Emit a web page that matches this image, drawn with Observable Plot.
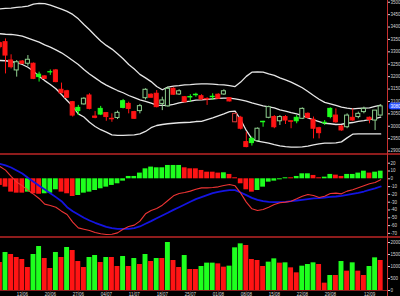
<!DOCTYPE html>
<html><head><meta charset="utf-8">
<script src="https://cdn.jsdelivr.net/npm/d3@7"></script>
<script src="https://cdn.jsdelivr.net/npm/@observablehq/plot@0.6"></script>
<style>
html,body{margin:0;padding:0;background:#000;}
#chart{position:relative;width:400px;height:296px;overflow:hidden;background:#000;}
#chart svg{display:block;}
.sep{position:absolute;left:0;width:400px;height:2px;background:#8e1c1c;}
.vsep{position:absolute;left:387px;top:0;width:1px;height:296px;background:#c83030;}
#chart [aria-label^="x-axis"] line, #chart [aria-label^="x-axis"] path{stroke:#a02020;}
</style></head>
<body><div id="chart"></div>
<script>
// ---- data (index 0..68 = trading days) ----
const tickIdx = [4, 9, 14, 19, 24, 29, 34, 39, 44, 49, 54, 59, 66];
const tickLab = ["13/06","20/06","27/06","04/07","11/07","18/07","25/07","01/08","08/08","15/08","22/08","29/08","12/09"];
const priceTicks = [2900,2950,3000,3050,3100,3150,3200,3250,3300,3350,3400,3450,3500];
const macdTicks = [20,10,0,-10,-20,-30,-40,-50,-60,-70];
const volTicks = [0,500,1000,1500,2000];

const open = [3335,3339,3265,3225,3261,3252,3252,3208,3201,3218,3225,3147,3141,3097,3074,3088,3124,3039,3070,3053,3030,3033,3101,3090,3057,3061,3113,3127,3131,3090,3080,3151,3128,3117,3118,3127,3121,3110,3119,3127,3128,3113,3016,3034,2936,2949,2940,3018,3034,3037,3020,3037,3020,3034,3030,3050,3026,2992,3014,3070,3043,2999,2996,3034,3037,3057,3034,3023,3043];
const high = [3339,3352,3288,3265,3265,3285,3255,3218,3203,3227,3229,3174,3145,3100,3084,3115,3131,3059,3080,3055,3050,3061,3108,3097,3060,3088,3151,3131,3144,3117,3158,3155,3147,3120,3127,3133,3127,3115,3131,3131,3147,3115,3052,3040,2976,2956,2993,3020,3081,3043,3043,3043,3020,3043,3074,3054,3037,2996,3023,3074,3070,3003,3050,3070,3057,3077,3037,3063,3086];
const low = [3312,3211,3231,3198,3250,3242,3188,3178,3189,3205,3175,3131,3112,3037,3043,3085,3066,3030,3043,3020,3016,3027,3070,3050,3028,3050,3106,3113,3074,3063,3077,3125,3124,3094,3097,3117,3104,3084,3104,3109,3124,3098,3014,2985,2913,2920,2937,2996,3030,2990,3003,3007,2990,3010,3027,3030,2949,2949,3003,3030,3012,2980,2990,3020,3030,3050,3010,2983,3041];
const close = [3319,3285,3238,3258,3252,3268,3191,3198,3191,3217,3178,3133,3115,3043,3061,3111,3070,3034,3047,3037,3028,3054,3074,3070,3030,3081,3147,3115,3077,3104,3151,3127,3141,3097,3116,3125,3108,3108,3117,3111,3141,3100,3050,2990,2916,2932,2990,3016,3077,2996,3037,3023,3018,3020,3070,3034,2990,2972,3012,3037,3016,2983,3043,3023,3050,3070,3026,3063,3080];
const candleUp = [0,0,0,1,0,1,0,1,0,1,0,0,0,0,1,1,0,0,1,0,0,1,1,0,0,1,1,0,0,1,1,0,1,0,1,1,0,0,1,0,1,0,0,0,0,1,1,1,1,0,1,0,0,1,1,0,0,0,1,1,0,0,1,0,1,1,0,1,1];

const bandUpper = [3473,3475,3476,3479,3481,3484,3492,3495,3494,3488,3480,3472,3463,3451,3433,3410,3389,3366,3344,3326,3311,3292,3272,3249,3231,3209,3195,3180,3160,3147,3158,3162,3164,3167,3168,3170,3171,3171,3170,3168,3167,3164,3160,3178,3201,3218,3219,3218,3211,3205,3195,3187,3178,3167,3155,3140,3124,3109,3096,3090,3084,3077,3073,3070,3072,3073,3074,3080,3085];
const bandMid = [3373,3371,3370,3367,3363,3355,3347,3339,3328,3319,3308,3296,3281,3265,3249,3229,3211,3195,3179,3166,3155,3144,3135,3124,3115,3106,3100,3093,3085,3084,3084,3088,3094,3098,3101,3105,3106,3108,3110,3112,3113,3113,3110,3106,3101,3094,3088,3082,3078,3074,3066,3061,3055,3050,3043,3034,3026,3019,3012,3010,3007,3008,3012,3015,3020,3023,3027,3031,3037];
const bandLower = [3265,3264,3261,3256,3249,3238,3222,3201,3184,3168,3151,3128,3104,3080,3050,3037,3016,2999,2986,2976,2965,2963,2963,2964,2965,2969,2979,2994,3003,3007,3010,3012,3014,3015,3016,3019,3020,3027,3034,3042,3050,3059,3061,3026,2983,2949,2940,2936,2932,2926,2921,2918,2916,2916,2917,2920,2925,2929,2932,2932,2933,2937,2953,2968,2969,2969,2969,2969,2969];

const macdLine = [15.8,11.1,3.0,-4.3,-9.0,-14.6,-19.7,-25.2,-32.5,-34.2,-36.4,-41.5,-45.8,-55.6,-62.9,-64.6,-66.3,-68.8,-70.5,-71.4,-71.0,-69.3,-64.6,-61.1,-59.4,-54.3,-44.9,-40.6,-38.1,-33.8,-27.8,-21.8,-18.8,-17.6,-15.8,-13.3,-11.6,-11.6,-11.1,-10.3,-8.6,-7.3,-9.0,-18.4,-29.9,-38.5,-40.6,-39.3,-36.4,-32.9,-30.8,-29.9,-28.7,-25.7,-22.3,-20.1,-21.4,-24.0,-22.3,-18.8,-18.4,-19.3,-15.8,-14.1,-11.6,-9.0,-6.4,-4.7,-1.3];
const signalLine = [19.2,17.1,14.5,10.7,6.8,1.3,-3.9,-9.0,-13.7,-18.4,-23.5,-28.7,-36.4,-41.5,-45.8,-50.0,-53.5,-56.4,-59.0,-61.6,-63.3,-64.1,-64.1,-64.1,-63.3,-61.1,-57.7,-54.3,-50.5,-47.0,-43.6,-39.8,-36.4,-32.9,-29.5,-26.1,-23.5,-21.0,-18.4,-16.7,-15.4,-14.6,-14.6,-17.6,-21.0,-24.4,-26.9,-28.7,-29.5,-30.0,-30.0,-29.5,-28.7,-27.8,-26.9,-26.1,-25.2,-24.8,-24.0,-23.1,-22.7,-21.8,-20.5,-19.3,-18.0,-16.3,-14.1,-12.4,-9.9];
const histo = [-8.5,-10.7,-17.1,-18.4,-18.4,-17.1,-19.2,-19.8,-19.2,-18.4,-14.1,-17.1,-19.2,-22.7,-21.4,-18.4,-17.1,-15.0,-12.8,-10.7,-8.5,-6.4,-3.0,3.0,3.0,7.3,12.8,15.0,14.1,14.1,17.1,17.1,17.1,14.1,12.8,12.8,10.7,8.5,8.5,7.3,7.7,5.6,1.3,-6.4,-14.1,-17.1,-15.0,-10.7,-4.3,-3.0,-1.3,1.3,1.3,3.0,6.4,6.4,4.3,1.3,2.1,5.6,4.7,3.0,5.6,5.6,7.3,9.8,7.3,8.5,9.8];
const histoUp = [0,0,0,0,0,1,0,0,1,1,1,0,0,0,1,1,1,1,1,1,1,1,1,1,1,1,1,1,1,1,1,1,1,0,0,0,0,0,0,0,1,0,0,0,0,0,1,1,1,1,1,1,0,1,1,1,0,0,1,1,0,0,1,1,1,1,0,1,1];

const volume = [1167,1583,1500,1375,1292,958,1500,1833,1333,917,1583,1375,1792,1667,1208,958,1375,1458,1167,1375,1375,1000,1417,1000,1333,1083,1500,1208,1333,1333,2000,1250,958,1458,875,875,1000,1140,1140,1110,972,1014,1778,1944,1875,1292,1250,1000,1181,1319,1140,1153,944,736,1014,1083,1153,1083,306,625,625,1208,806,1153,806,625,1000,1361,1250];
const volUp = [0,1,0,0,0,0,1,1,0,0,1,0,1,0,0,0,1,1,0,1,0,0,1,0,1,0,1,0,1,0,1,0,0,1,0,0,1,1,1,0,0,1,1,1,0,0,0,0,1,1,0,1,0,0,1,1,1,0,0,1,0,1,0,1,0,0,1,1,0];

// ---- build tables ----
const rows = open.map((o, j) => ({
  j, o, h: high[j], l: low[j], c: close[j], up: candleUp[j],
  bu: bandUpper[j], bm: bandMid[j], bl: bandLower[j],
  macd: macdLine[j], sig: signalLine[j], hist: histo[j], hup: histoUp[j],
  vol: volume[j], vup: volUp[j]
}));
const lastClose = close[close.length - 1];

const GREEN = "#1eff1e", PALE = "#8fd08f", RED = "#ff1414", RED_H = "#d03a3a";
const cStroke = d => d.up ? (d.c > d.o ? PALE : GREEN) : (d.c > d.o ? RED_H : RED);
const cFill = d => d.c > d.o ? "black" : cStroke(d);

const xDomain = [0.107, 69.214];
const baseStyle = {background: "black", color: "#d4d4d4", fontSize: "4.5px", fontFamily: "Liberation Sans, Arial, sans-serif", overflow: "visible"};
const common = {width: 400, marginLeft: 0, marginRight: 13, style: baseStyle};

const price = Plot.plot({
  ...common, height: 155, marginTop: 0, marginBottom: 0,
  x: {domain: xDomain, axis: null},
  y: {domain: [2882, 3507], axis: "right", ticks: priceTicks, tickFormat: d => String(d), tickSize: 2, tickPadding: 1, label: null},
  marks: [
    Plot.line(rows, {x: "j", y: "bu", stroke: "#e6e6e6", strokeWidth: 1.3}),
    Plot.line(rows, {x: "j", y: "bm", stroke: "#e6e6e6", strokeWidth: 1.3}),
    Plot.line(rows, {x: "j", y: "bl", stroke: "#e6e6e6", strokeWidth: 1.3}),
    Plot.ruleX(rows, {x: "j", y1: "l", y2: "h", stroke: cStroke, strokeWidth: 1}),
    Plot.rect(rows, {x1: d => d.j - 0.36, x2: d => d.j + 0.36, y1: "o", y2: "c", fill: cFill, stroke: cStroke, strokeWidth: 1}),
    Plot.text([lastClose], {y: d => d, frameAnchor: "right", dx: 3, textAnchor: "start", text: d => String(d), fill: "white", stroke: "#2a52ff", strokeWidth: 3, strokeLinejoin: "miter"})
  ]
});

const macd = Plot.plot({
  ...common, height: 82, marginTop: 0, marginBottom: 0,
  x: {domain: xDomain, axis: null},
  y: {domain: [-75.26, 29.87], axis: "right", ticks: macdTicks, tickFormat: d => String(d), tickSize: 2, tickPadding: 1, label: null},
  marks: [
    Plot.rect(rows, {x1: d => d.j - 0.43, x2: d => d.j + 0.43, y1: () => 0, y2: "hist", fill: d => d.hup ? GREEN : RED}),
    Plot.line(rows, {x: "j", y: "sig", stroke: "#1414e0", strokeWidth: 1.8}),
    Plot.line(rows, {x: "j", y: "macd", stroke: "#ee3434", strokeWidth: 1.1})
  ]
});

const vol = Plot.plot({
  ...common, height: 59, marginTop: 5, marginBottom: 6,
  x: {domain: xDomain, ticks: tickIdx, tickFormat: i => tickLab[tickIdx.indexOf(i)], tickSize: 1.5, tickPadding: 0.5, label: null},
  y: {domain: [0, 2000], axis: "right", ticks: volTicks, tickFormat: d => String(d), tickSize: 2, tickPadding: 1, label: null},
  marks: [
    Plot.rect(rows, {x1: d => d.j - 0.44, x2: d => d.j + 0.44, y1: () => 0, y2: "vol", fill: d => d.vup ? GREEN : RED}),
    Plot.ruleY([0], {stroke: "#8e1c1c", strokeWidth: 1})
  ]
});

const chart = document.getElementById("chart");
chart.append(price, macd, vol);
for (const t of [153, 236]) {
  const s = document.createElement("div"); s.className = "sep"; s.style.top = t + "px"; chart.append(s);
}
const v = document.createElement("div"); v.className = "vsep"; chart.append(v);
</script>
</body></html>
